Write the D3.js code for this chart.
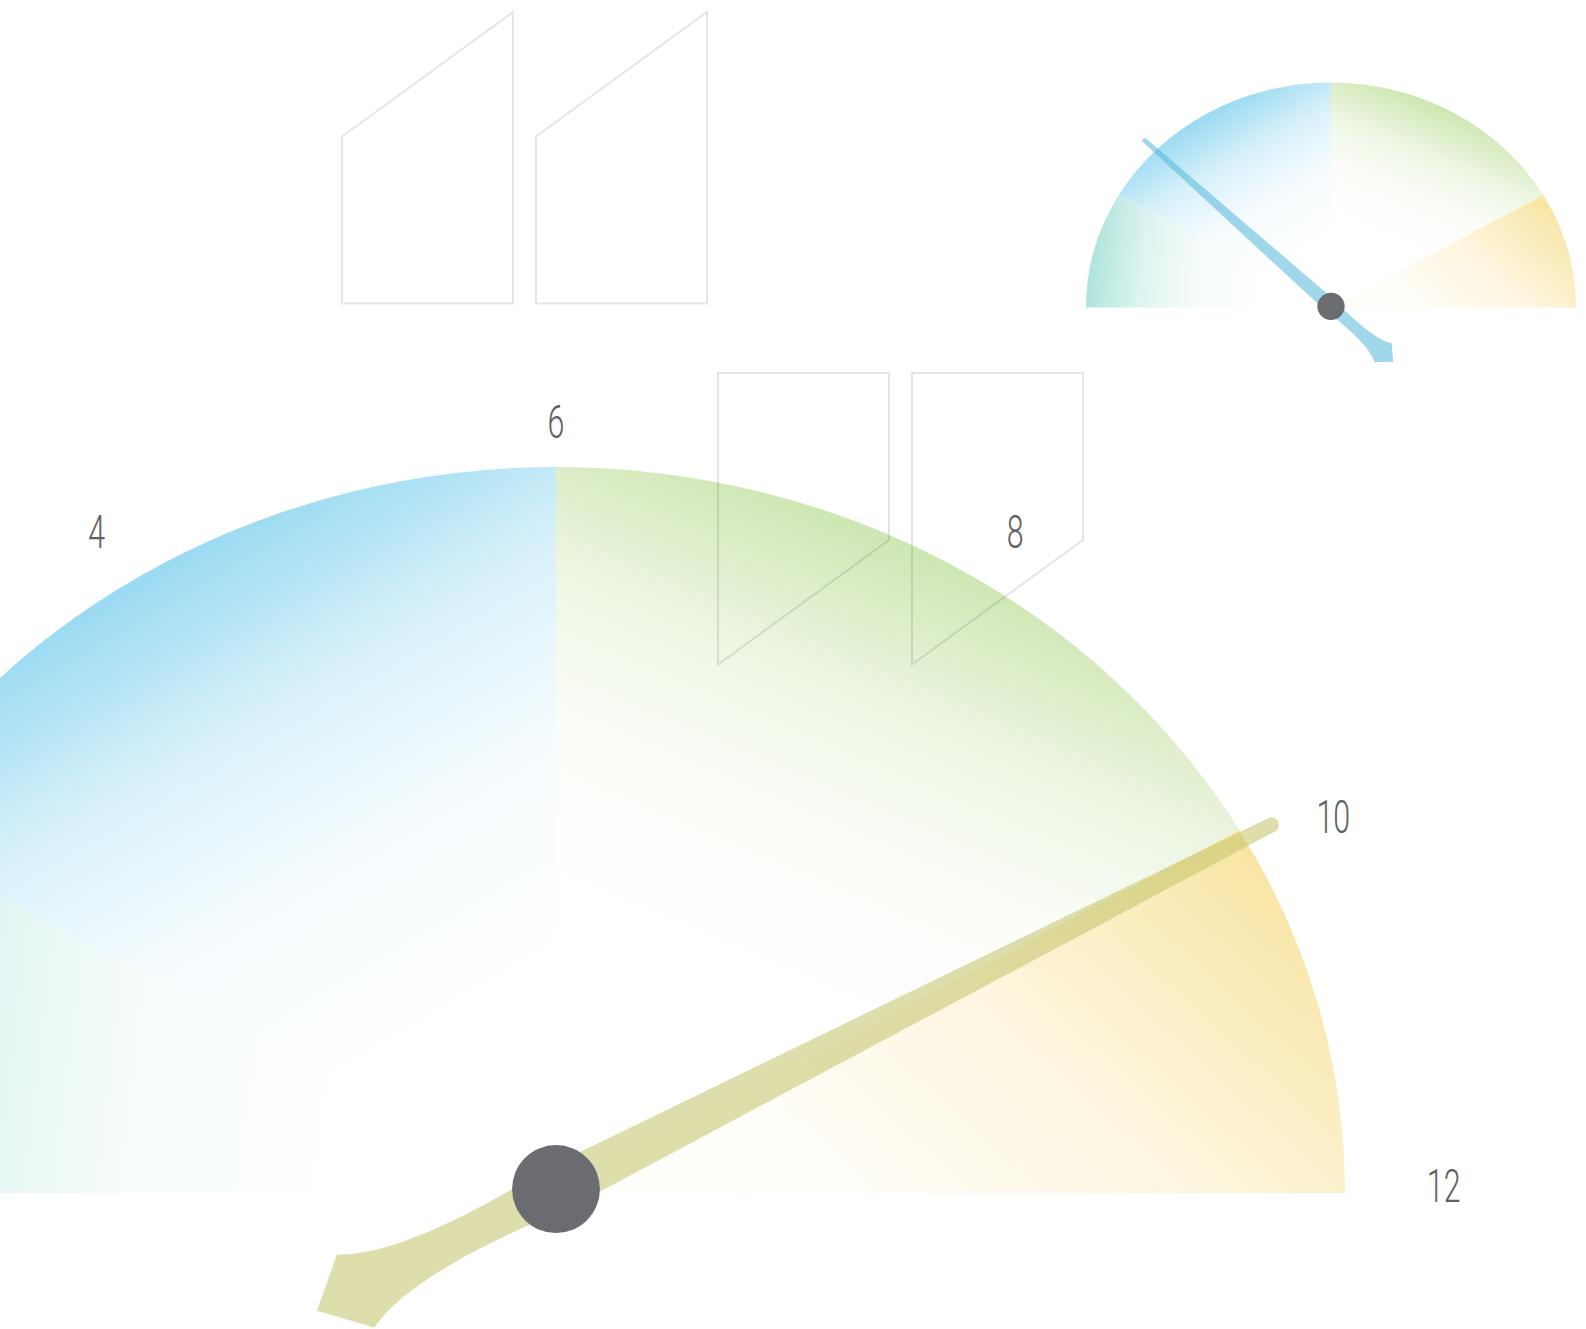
<!DOCTYPE html>
<html>
<head>
<meta charset="utf-8">
<script src="https://cdn.jsdelivr.net/npm/d3@7"></script>
<style>
  body { margin: 0; background: #fff; }
  svg { display: block; }
  .tick-label { font-family: Roboto, "Open Sans", sans-serif; font-weight: 300; fill: #5f6063; }
</style>
</head>
<body>
<svg id="gauge"></svg>
<script>
// gauge runs 0..12, four coloured bands
var bandNames = ["teal", "blue", "green", "yellow"];
var bandStart = [0, 2, 6, 10];
var bandEnd = [2, 6, 10, 12];
var bandColor = ["#9fdfd4", "#8ed6f1", "#cbe5ad", "#f8e39c"];

var tickValues = [4, 6, 8, 10, 12];
var tickLabels = ["4", "6", "8", "10", "12"];

// needle readings (big gauge, small gauge)
var needleValues = [10.07, 2.94];
var needleColor = ["#c2c36a", "#53b7d9"];

var width = 1586, height = 1329;

var svg = d3.select("#gauge")
  .attr("width", width)
  .attr("height", height);

// gauge layouts (ellipses, a bit wider than tall)
var gauges = [
  { cx: 556, cy: 1193, rx: 789, ry: 726, labels: true },
  { cx: 1331, cy: 307.5, rx: 245, ry: 225, labels: false }
];

// gradient axis of each band, in unit gauge space (y down)
var bandGrad = {
  teal:   { x1: -1.06, y1: -0.12, x2: 0.087, y2: 0.009 },
  blue:   { x1: -0.56, y1: -0.88, x2: 0.05,  y2: 0.08 },
  green:  { x1: 0.42,  y1: -0.93, x2: 0.02,  y2: -0.064 },
  yellow: { x1: 0.71,  y1: -0.71, x2: -0.437, y2: 0.448 }
};
// fade profile: [offset, amount of white]
var fadeStops = [[0, 0], [0.12, 0.32], [0.25, 0.66], [0.45, 0.92], [0.7, 1]];

var bands = bandNames.map((name, i) => ({
  name: name, start: bandStart[i], end: bandEnd[i], color: bandColor[i]
}));

var defs = svg.append("defs");
bands.forEach(b => {
  var g = bandGrad[b.name];
  var mix = d3.interpolateRgb(b.color, "#ffffff");
  defs.append("linearGradient")
    .attr("id", "grad-" + b.name)
    .attr("gradientUnits", "userSpaceOnUse")
    .attr("x1", g.x1).attr("y1", g.y1)
    .attr("x2", g.x2).attr("y2", g.y2)
    .selectAll("stop")
    .data(fadeStops)
    .enter()
    .append("stop")
    .attr("offset", d => d[0])
    .attr("stop-color", d => mix(d[1]));
});

var bandLayer = svg.append("g");
var quoteLayer = svg.append("g");
var needleLayer = svg.append("g");
var labelLayer = svg.append("g");

// decorative quote outlines
var quoteW = 171, quoteH = 291.5, quoteSlant = 124.5, quoteStep = 194;
var quoteOpen = { x: 342, y: 12 }, quoteClose = { x: 718, y: 373 };
var openShape = [[0, quoteSlant], [quoteW, 0], [quoteW, quoteH], [0, quoteH]];
var closeShape = [[0, 0], [quoteW, 0], [quoteW, quoteH - quoteSlant], [0, quoteH]];
var quoteLine = d3.line().curve(d3.curveLinearClosed);

[[quoteOpen, openShape], [quoteClose, closeShape]].forEach(q => {
  [0, 1].forEach(k => {
    quoteLayer.append("path")
      .attr("transform", "translate(" + (q[0].x + k * quoteStep) + "," + q[0].y + ")")
      .attr("d", quoteLine(q[1]))
      .attr("fill", "none")
      .attr("stroke", "#000")
      .attr("stroke-opacity", 0.1)
      .attr("stroke-width", 2);
  });
});

// value -> arc angle (d3 convention) and value -> math angle
var arcAngle = d3.scaleLinear().domain([0, 12]).range([-Math.PI / 2, Math.PI / 2]);
var mathAngle = d3.scaleLinear().domain([0, 12]).range([Math.PI, 0]);

var arc = d3.arc()
  .innerRadius(0)
  .outerRadius(1)
  .startAngle(d => arcAngle(d.start))
  .endAngle(d => arcAngle(d.end));

// needle in its own frame: points up, unit = rx
function needlePath() {
  var w0 = 0.029, w1 = 0.0095, L = 1.027 - w1;
  var p = d3.path();
  p.moveTo(w0, 0);
  p.bezierCurveTo(0.017, 0.13, 0.024, 0.235, 0.052, 0.285);
  p.lineTo(0, 0.34);
  p.lineTo(-0.052, 0.285);
  p.bezierCurveTo(-0.024, 0.235, -0.017, 0.13, -w0, 0);
  p.lineTo(-w1, -L);
  p.arc(0, -L, w1, Math.PI, 0);
  p.closePath();
  return p.toString();
}

gauges.forEach((g, gi) => {
  bandLayer.append("g")
    .attr("transform", "translate(" + g.cx + "," + g.cy + ") scale(" + g.rx + "," + g.ry + ")")
    .selectAll(".band")
    .data(bands)
    .enter()
    .append("path")
    .attr("class", "band")
    .attr("d", arc)
    .attr("fill", d => "url(#grad-" + d.name + ")");

  // needle direction follows the ellipse point of the value
  var a = mathAngle(needleValues[gi]);
  var theta = Math.atan2(g.ry * Math.sin(a), g.rx * Math.cos(a)) * 180 / Math.PI;
  var py = g.cy - 0.005 * g.rx;

  needleLayer.append("path")
    .attr("transform", "translate(" + g.cx + "," + py + ") rotate(" + (90 - theta) + ") scale(" + g.rx + ")")
    .attr("d", needlePath())
    .attr("fill", needleColor[gi])
    .attr("fill-opacity", 0.55);

  needleLayer.append("circle")
    .attr("cx", g.cx)
    .attr("cy", py)
    .attr("r", 0.0557 * g.rx)
    .attr("fill", "#6b6c70");

  if (g.labels) {
    var fontSize = 46;
    var lx = g.rx * 1.125, ly = g.ry * 1.052;
    labelLayer.selectAll(".tick-label")
      .data(tickValues)
      .enter()
      .append("text")
      .attr("class", "tick-label")
      .attr("transform", d => {
        var t = mathAngle(d);
        var phi = Math.atan2(0.955 * Math.sin(t), Math.cos(t));
        var x = g.cx + lx * Math.cos(phi);
        var y = g.cy - 7.5 - ly * Math.sin(phi) + fontSize * 0.355;
        return "translate(" + x + "," + y + ") scale(0.66,1)";
      })
      .attr("text-anchor", "middle")
      .style("font-size", fontSize + "px")
      .text((d, i) => tickLabels[i]);
  }
});
</script>
</body>
</html>
